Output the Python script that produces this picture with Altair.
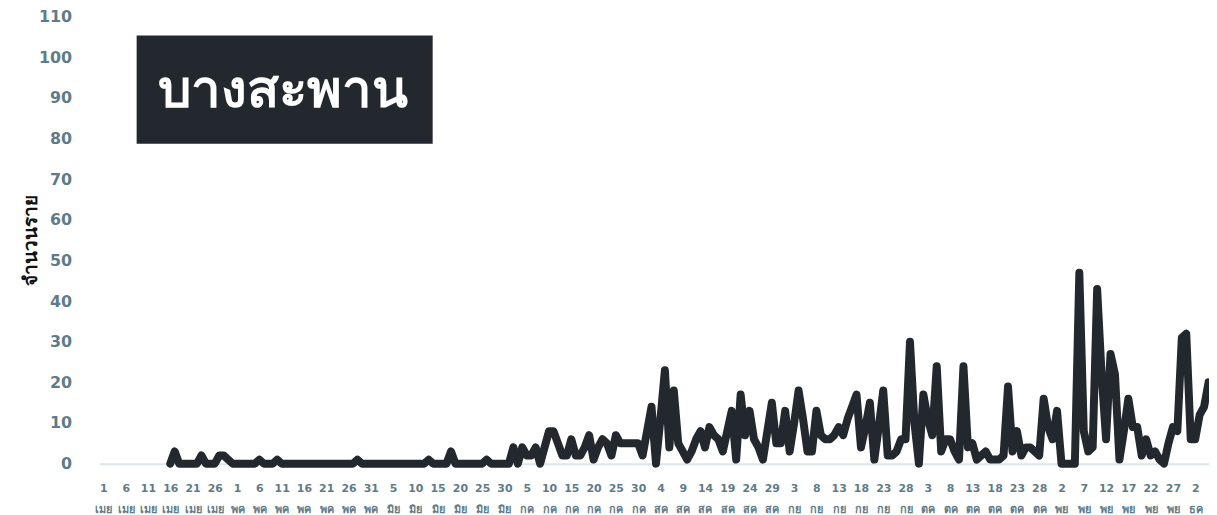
import altair as alt
import pandas as pd

# daily cases, starting at day index 15 (16 เมย); day 0 = 1 เมย
first_day = 15
cases = [
    0, 3, 0, 0, 0, 0, 0,
    2, 0, 0, 0, 2, 2, 1,
    0, 0, 0, 0, 0, 0, 1,
    0, 0, 0, 1, 0, 0, 0,
    0, 0, 0, 0, 0, 0, 0,
    0, 0, 0, 0, 0, 0, 0,
    1, 0, 0, 0, 0, 0, 0,
    0, 0, 0, 0, 0, 0, 0,
    0, 0, 1, 0, 0, 0, 0,
    3, 0, 0, 0, 0, 0, 0,
    0, 1, 0, 0, 0, 0, 0,
    4, 0, 4, 2, 2, 4, 0,
    4, 8, 8, 5, 2, 2, 6,
    2, 2, 4, 7, 1, 4, 6,
    5, 2, 7, 5, 5, 5, 5,
    5, 2, 8, 14, 0, 11, 23,
    4, 18, 5, 3, 1, 3, 6,
    8, 4, 9, 7, 6, 3, 8,
    13, 1, 17, 7, 13, 6, 4,
    1, 8, 15, 5, 5, 13, 3,
    10, 18, 11, 3, 3, 13, 7,
    6, 6, 7, 9, 7, 11, 14,
    17, 4, 9, 15, 1, 9, 18,
    2, 2, 3, 6, 6, 30, 10,
    0, 17, 11, 7, 24, 3, 6,
    6, 3, 1, 24, 4, 5, 1,
    2, 3, 1, 1, 1, 2, 19,
    3, 8, 2, 4, 4, 3, 2,
    16, 9, 6, 13, 0, 0, 0,
    0, 47, 8, 3, 4, 43, 22,
    6, 27, 22, 1, 8, 16, 9,
    9, 2, 6, 2, 3, 1, 0,
    5, 9, 8, 31, 32, 6, 6,
    12, 14, 20,
]

tick_days = [1, 6, 11, 16, 21, 26,
             1, 6, 11, 16, 21, 26, 31,
             5, 10, 15, 20, 25, 30,
             5, 10, 15, 20, 25, 30,
             4, 9, 14, 19, 24, 29,
             3, 8, 13, 18, 23, 28,
             3, 8, 13, 18, 23, 28,
             2, 7, 12, 17, 22, 27,
             2]
tick_months = (["เมย"] * 6 + ["พค"] * 7 + ["มิย"] * 6 + ["กค"] * 6 + ["สค"] * 6 +
               ["กย"] * 6 + ["ตค"] * 6 + ["พย"] * 6 + ["ธค"] * 1)
tick_step = 5

title_text = "บางสะพาน"
y_title = "จำนวนราย"
y_ticks = list(range(0, 111, 10))

df = pd.DataFrame({"day": list(range(first_day, first_day + len(cases))), "cases": cases})
title_df = pd.DataFrame({"t": [title_text]})

days_js = "[" + ",".join(f"'{d}'" for d in tick_days) + "]"
months_js = "[" + ",".join(f"'{m}'" for m in tick_months) + "]"
label_expr = (f"[{days_js}[round(datum.value/{tick_step})], "
              f"{months_js}[round(datum.value/{tick_step})]]")

FONT = "DejaVu Sans, Liberation Sans, Noto Sans, sans-serif"
LABEL_COLOR = "#5f7b89"
DARK = "#22282e"

x_enc = alt.X(
    "day:Q",
    scale=alt.Scale(domain=[-0.9, 248.1], nice=False, zero=False),
    axis=alt.Axis(
        values=[i * tick_step for i in range(len(tick_days))],
        labelExpr=label_expr, title=None, grid=False, ticks=False,
        domainColor="#dde5e9", domainWidth=2,
        labelColor=LABEL_COLOR, labelFont=FONT, labelFontSize=11,
        labelFontWeight="bold", labelPadding=19, labelLineHeight=21,
        labelFlush=False, labelOverlap=False, labelBound=False,
    ),
)
y_enc = alt.Y(
    "cases:Q",
    scale=alt.Scale(domain=[0, 110], nice=False),
    axis=alt.Axis(
        values=y_ticks, title=y_title, grid=False, ticks=False, domain=False,
        labelColor=LABEL_COLOR, labelFont=FONT, labelFontSize=16,
        labelFontWeight="bold", labelPadding=28,
        titleFont=FONT, titleFontSize=19, titleFontWeight="bold",
        titleColor="#111111", titlePadding=-2,
    ),
)

line = alt.Chart(df).mark_line(
    color=DARK, strokeWidth=8, strokeJoin="round", strokeCap="round"
).encode(x=x_enc, y=y_enc)

box = alt.Chart(title_df).mark_rect(color=DARK).encode(
    x=alt.value(37.5), x2=alt.value(335.5), y=alt.value(19), y2=alt.value(128)
)
label = alt.Chart(title_df).mark_text(
    color="white", font=FONT, fontSize=53, fontWeight="bold",
    align="center", baseline="middle"
).encode(x=alt.value(185), y=alt.value(75), text="t:N")

chart = alt.layer(box, label, line).properties(
    width=1117, height=450,
    autosize=alt.AutoSizeParams(type="none"),
    padding={"left": 92, "top": 7, "right": 0, "bottom": 50},
    background="white",
).configure_view(stroke=None)

chart.save("out.html", embed_options={"renderer": "svg", "actions": False})
